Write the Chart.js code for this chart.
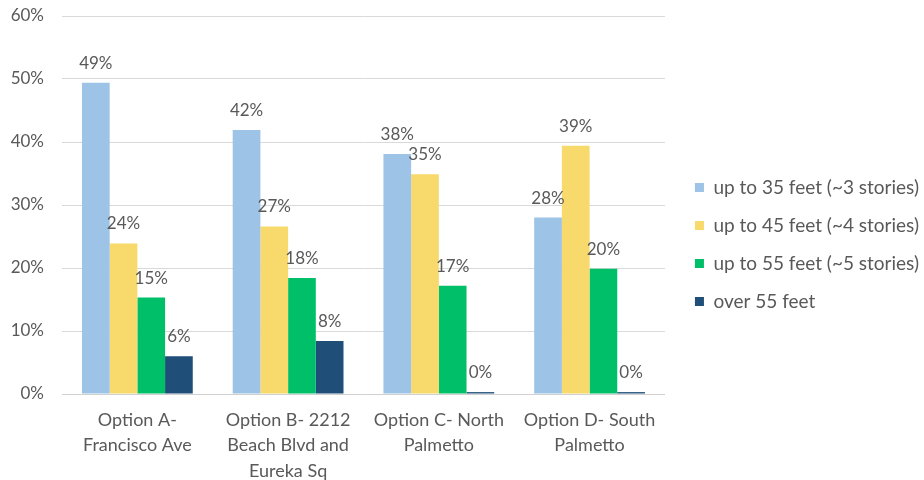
<!DOCTYPE html>
<html>
<head>
<meta charset="utf-8">
<script src="https://cdn.jsdelivr.net/npm/chart.js@4/dist/chart.umd.min.js"></script>
<style>
  html, body { margin: 0; padding: 0; background: #fff; }
  #wrap { width: 924px; height: 480px; position: relative; }
</style>
</head>
<body>
<div id="wrap"><canvas id="chart"></canvas></div>
<script>
const categories = [
  ['Option A-', 'Francisco Ave'],
  ['Option B- 2212', 'Beach Blvd and', 'Eureka Sq'],
  ['Option C- North', 'Palmetto'],
  ['Option D- South', 'Palmetto']
];
const seriesNames = [
  'up to 35 feet (~3 stories)',
  'up to 45 feet (~4 stories)',
  'up to 55 feet (~5 stories)',
  'over 55 feet'
];
const upTo35 = [49.4, 41.9, 38.1, 28.0];
const upTo45 = [23.9, 26.6, 34.9, 39.4];
const upTo55 = [15.3, 18.4, 17.2, 19.9];
const over55 = [6.0, 8.4, 0.3, 0.3];
const yTicks = [0, 10, 20, 30, 40, 50, 60];

const colors = ['#9DC3E6', '#F8D96B', '#00BF69', '#1F4E79'];
const textColor = '#595959';
const fontFamily = 'Lato, "Open Sans", sans-serif';

// let the side legend be wider than Chart.js' default share
const wideLegend = {
  id: 'wideLegend',
  afterInit(chart) {
    const legend = chart.legend;
    const update = legend.update.bind(legend);
    legend.update = (maxW, maxH, margins) => update(Math.max(maxW, 300), maxH, margins);
  }
};

const barLabels = {
  id: 'barLabels',
  afterDatasetsDraw(chart) {
    const ctx = chart.ctx;
    ctx.save();
    ctx.font = '17px ' + fontFamily;
    ctx.fillStyle = textColor;
    ctx.textAlign = 'center';
    ctx.textBaseline = 'alphabetic';
    chart.data.datasets.forEach((ds, i) => {
      chart.getDatasetMeta(i).data.forEach((bar, j) => {
        ctx.fillText(Math.round(ds.data[j]) + '%', bar.x, bar.y - 14);
      });
    });
    ctx.restore();
  }
};

const datasets = [upTo35, upTo45, upTo55, over55].map((vals, i) => ({
  label: seriesNames[i],
  data: vals,
  backgroundColor: colors[i],
  borderWidth: 0,
  categoryPercentage: 0.735,
  barPercentage: 1
}));

new Chart(document.getElementById('chart'), {
  type: 'bar',
  data: { labels: categories, datasets },
  plugins: [wideLegend, barLabels],
  options: {
    responsive: true,
    maintainAspectRatio: false,
    animation: false,
    layout: { padding: { left: 0, top: 9, right: -5, bottom: 0 } },
    plugins: {
      tooltip: { enabled: false },
      legend: {
        position: 'right',
        align: 'center',
        labels: {
          boxWidth: 9,
          boxHeight: 9,
          padding: 19,
          color: textColor,
          font: { family: fontFamily, size: 19 }
        }
      }
    },
    scales: {
      x: {
        grid: { display: false, drawTicks: false },
        border: { display: true, color: '#D0D0D0', width: 1 },
        ticks: {
          color: textColor,
          padding: 13,
          maxRotation: 0,
          autoSkip: false,
          font: { family: fontFamily, size: 18, lineHeight: 1.42 }
        },
        afterFit: s => { s.height = 86; }
      },
      y: {
        min: 0,
        max: 60,
        afterBuildTicks: axis => { axis.ticks = yTicks.map(v => ({ value: v })); },
        grid: { color: '#D9D9D9', drawTicks: false },
        border: { display: false },
        ticks: {
          color: textColor,
          padding: 18,
          font: { family: fontFamily, size: 17 },
          callback: v => v + '%'
        },
        afterFit: s => { s.width = 62; s.paddingTop = 16; s.paddingBottom = 0; }
      },
      gap: {
        position: 'right',
        grid: { display: false, drawTicks: false },
        border: { display: false },
        ticks: { display: false },
        afterFit: s => { s.width = 11; }
      }
    }
  }
});
</script>
</body>
</html>
